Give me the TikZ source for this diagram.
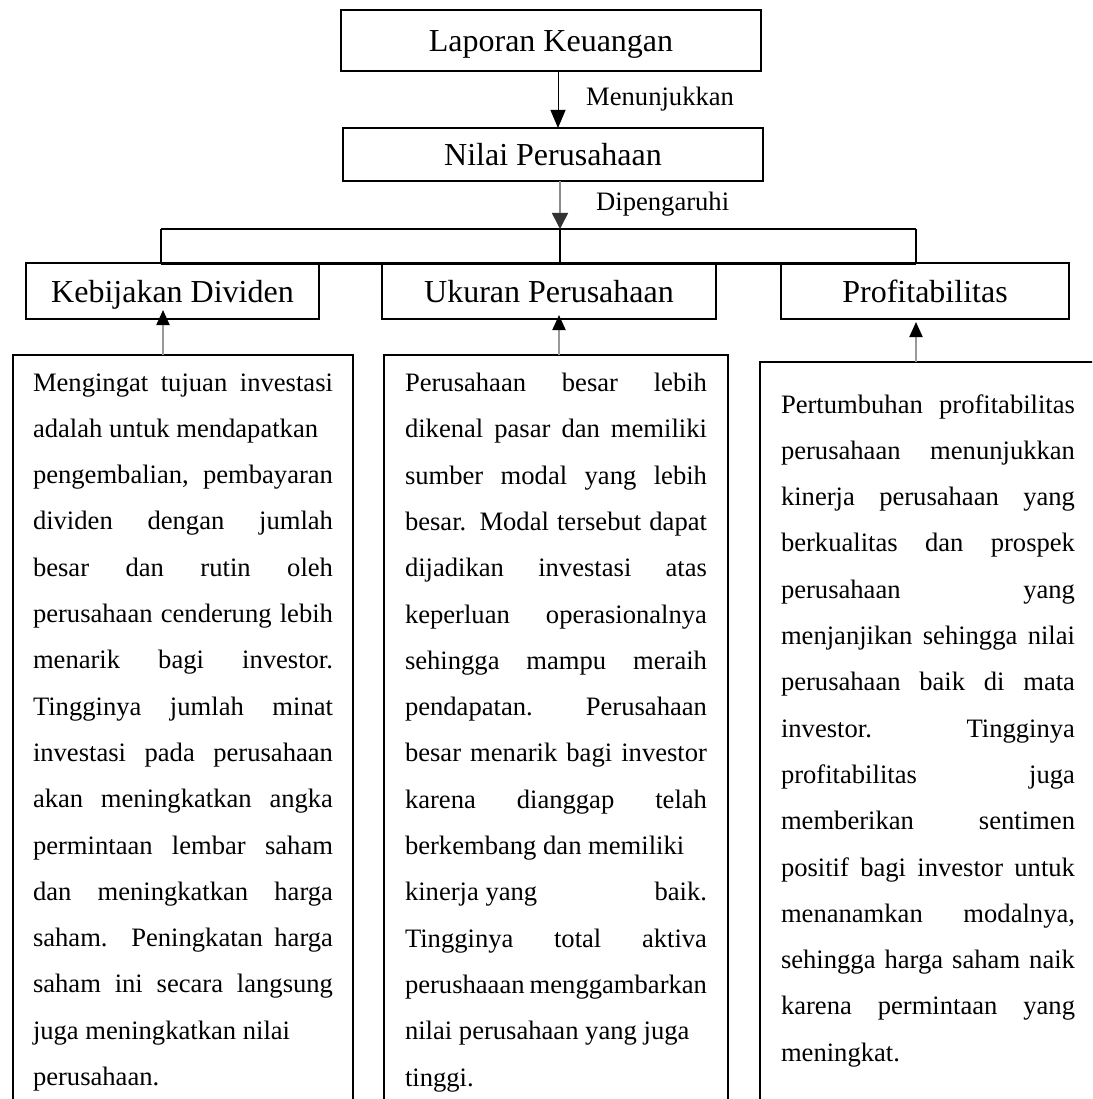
\documentclass[tikz,border=0pt]{standalone}
\usepackage{fontspec}
\setmainfont{Liberation Serif}
\usetikzlibrary{arrows.meta}
\newcommand{\jline}[1]{\makebox[\linewidth][s]{#1}}
\hbadness=10000
\begin{document}
\begin{tikzpicture}[x=1pt,y=-1pt,
  titlebox/.style={draw, line width=2.8pt, inner sep=0pt, outer sep=0pt, text height=22pt, text depth=0pt, font=\fontsize{32pt}{38pt}\selectfont},
  textbox/.style={draw, line width=2.5pt, anchor=north west, inner sep=0pt, outer sep=0pt, minimum height=800pt},
  bodytext/.style={anchor=base west, inner sep=0pt, outer sep=0pt},
  lbl/.style={anchor=base west, inner sep=0pt, font=\fontsize{26.6pt}{30pt}\selectfont},
  darr/.style={line width=1pt, -{Triangle[length=18pt,width=15pt]}},
  garr/.style={line width=1.6pt, draw=black!45, -{Triangle[length=16pt,width=16pt,color=black!80]}},
  uarr/.style={line width=2pt, draw=black!40, -{Triangle[length=15pt,width=13pt,color=black]}},
  branch/.style={line width=2pt},
]
\useasboundingbox (0,0) rectangle (1092,1099);
\clip (0,0) rectangle (1092,1099);

% title boxes
\node[titlebox, minimum width=420pt, minimum height=61pt] (lap) at (551,40.5) {Laporan Keuangan};
\node[titlebox, minimum width=420pt, minimum height=53pt] (nil) at (553,154.5) {Nilai Perusahaan};
\node[titlebox, minimum width=293pt, minimum height=56pt] (kb) at (172.5,291) {Kebijakan Dividen};
\node[titlebox, minimum width=334pt, minimum height=56pt] (uk) at (549,291) {Ukuran Perusahaan};
\node[titlebox, minimum width=288pt, minimum height=56pt] (pr) at (925,291) {Profitabilitas};

% branch bracket
\coordinate (bl) at (161,229);
\coordinate (br) at (916,229);
\coordinate (bj) at (560,229);
\draw[branch] (bl) -- (br);
\draw[branch] (bl) -- (bl |- kb.north);
\draw[branch] (br) -- (br |- pr.north);
\draw[line width=1.5pt] (bj) -- (bj |- uk.north);
\draw[line width=3pt] (bl |- kb.north) -- (br |- pr.north);

% top arrows and labels
\draw[darr] ([xshift=7pt]lap.south) -- ([xshift=5pt]nil.north);
\node[lbl] (men) at (586,106) {Menunjukkan};
\draw[garr] ([xshift=7pt]nil.south) -- (bj);
\node[lbl] (dip) at (596,211) {Dipengaruhi};

% text boxes
\node[textbox, minimum width=340pt] (tb1) at (13,355) {};
\node[textbox, minimum width=344pt] (tb2) at (384,355) {};
\node[textbox, minimum width=340pt] (tb3) at (760,362) {};

% up arrows
\draw[uarr] ([xshift=-20pt]tb1.north) -- ([xshift=-9.5pt,yshift=9pt]kb.south);
\draw[uarr] ([xshift=3pt]tb2.north) -- ([xshift=10pt,yshift=4pt]uk.south);
\draw[uarr] ([xshift=-14pt]tb3.north) -- ([xshift=-9pt,yshift=-3pt]pr.south);

% body texts
\node[bodytext] (t1) at (33,391) {\parbox[t]{300pt}{\fontsize{26.6pt}{46.3pt}\selectfont
\jline{Mengingat tujuan investasi}\\
adalah untuk mendapatkan\\
\jline{pengembalian, pembayaran}\\
\jline{dividen dengan jumlah}\\
\jline{besar dan rutin oleh}\\
\jline{perusahaan cenderung lebih}\\
\jline{menarik bagi investor.}\\
\jline{Tingginya jumlah minat}\\
\jline{investasi pada perusahaan}\\
\jline{akan meningkatkan angka}\\
\jline{permintaan lembar saham}\\
\jline{dan meningkatkan harga}\\
\jline{saham. Peningkatan harga}\\
\jline{saham ini secara langsung}\\
juga meningkatkan nilai\\
perusahaan.}};

\node[bodytext] (t2) at (405,391.5) {\parbox[t]{302pt}{\fontsize{26.6pt}{46.3pt}\selectfont
\jline{Perusahaan besar lebih}\\
\jline{dikenal pasar dan memiliki}\\
\jline{sumber modal yang lebih}\\
\jline{besar. Modal tersebut dapat}\\
\jline{dijadikan investasi atas}\\
\jline{keperluan operasionalnya}\\
\jline{sehingga mampu meraih}\\
\jline{pendapatan. Perusahaan}\\
\jline{besar menarik bagi investor}\\
\jline{karena dianggap telah}\\
berkembang dan memiliki\\
\jline{kinerja yang\hfill baik.}\\
\jline{Tingginya total aktiva}\\
\jline{perushaaan menggambarkan}\\
nilai perusahaan yang juga\\
tinggi.}};

\node[bodytext] (t3) at (781,413) {\parbox[t]{294pt}{\fontsize{26.6pt}{46.3pt}\selectfont
\jline{Pertumbuhan profitabilitas}\\
\jline{perusahaan menunjukkan}\\
\jline{kinerja perusahaan yang}\\
\jline{berkualitas dan prospek}\\
\jline{perusahaan yang}\\
\jline{menjanjikan sehingga nilai}\\
\jline{perusahaan baik di mata}\\
\jline{investor. Tingginya}\\
\jline{profitabilitas juga}\\
\jline{memberikan sentimen}\\
\jline{positif bagi investor untuk}\\
\jline{menanamkan modalnya,}\\
\jline{sehingga harga saham naik}\\
\jline{karena permintaan yang}\\
meningkat.}};
\end{tikzpicture}
\end{document}
